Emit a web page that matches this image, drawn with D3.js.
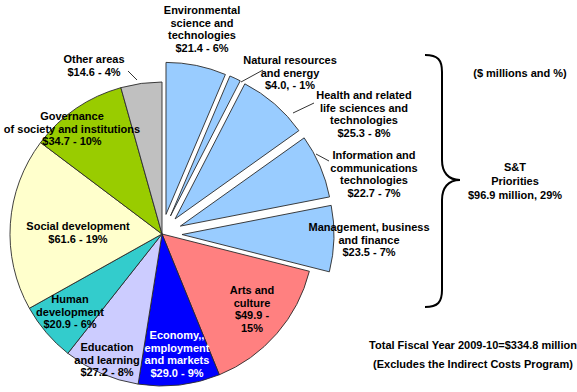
<!DOCTYPE html>
<html>
<head>
<meta charset="utf-8">
<script src="https://cdn.jsdelivr.net/npm/d3@7"></script>
<style>
  html, body { margin: 0; padding: 0; background: #fff; }
  svg { display: block; }
  text { font-family: "Liberation Sans", Arial, sans-serif; font-weight: bold; font-size: 11px; }
</style>
</head>
<body>
<svg id="chart" width="577" height="392"></svg>
<script>
// ---------------- DATA ----------------
const categories = [
  "Environmental science and technologies",
  "Natural resources and energy",
  "Health and related life sciences and technologies",
  "Information and communications technologies",
  "Management, business and finance",
  "Arts and culture",
  "Economy,, employment and markets",
  "Education and learning",
  "Human development",
  "Social development",
  "Governance of society and institutions",
  "Other areas"
];
const values   = [21.4, 4.0, 25.3, 22.7, 23.5, 49.9, 29.0, 27.2, 20.9, 61.6, 34.7, 14.6];
const percents = [6, 1, 8, 7, 7, 15, 9, 8, 6, 19, 10, 4];
const sAndT    = [true, true, true, true, true, false, false, false, false, false, false, false];
// label lines as they appear in the chart
const labelLines = [
  ["Environmental", "science and", "technologies", "$21.4 - 6%"],
  ["Natural resources", "and energy", "$4.0, - 1%"],
  ["Health and related", "life sciences and", "technologies", "$25.3 - 8%"],
  ["Information and", "communications", "technologies", "$22.7 - 7%"],
  ["Management, business", "and finance", "$23.5 - 7%"],
  ["Arts and", "culture", "$49.9 -", "15%"],
  ["Economy,,", "employment", "and markets", "$29.0 - 9%"],
  ["Education", "and learning", "$27.2 - 8%"],
  ["Human", "development", "$20.9 - 6%"],
  ["Social development", "$61.6 - 19%"],
  ["Governance", "of society and  institutions", "$34.7 - 10%"],
  ["Other areas", "$14.6 - 4%"]
];
const unitsNote = "($ millions and %)";
const braceLines = ["S&T", "Priorities", "$96.9 million, 29%"];
const footLines = ["Total Fiscal Year 2009-10=$334.8 million", "(Excludes the Indirect Costs Program)"];

// ---------------- STYLE / LAYOUT ----------------
const colors = ["#99CCFF", "#99CCFF", "#99CCFF", "#99CCFF", "#99CCFF",
                "#FF8080", "#0000FF", "#CCCCFF", "#33CCCC", "#FFFFCC", "#99CC00", "#C0C0C0"];
const textColors = ["#000", "#000", "#000", "#000", "#000", "#000", "#fff", "#000", "#000", "#000", "#000", "#000"];
const cx = 162, cy = 234, R = 152, explode = 20;
const lineH = 12.6;
// label anchor: [center x, first line center y]
const labelPos = [
  [202, 10], [290, 60], [364, 95], [374, 155], [369, 227], [252, 290],
  [177, 335], [107, 347], [70, 299], [78, 226], [72, 116], [94, 59]
];
// leader lines [x1,y1,x2,y2] (from label to slice)
const leaders = [
  null, [263, 70, 241, 82], [314, 103, 293, 113], [316, 154, 329, 161], null,
  null, null, null, null, null, null, [128, 71, 137, 80]
];

const svg = d3.select("#chart");
const g = svg.append("g").attr("transform", `translate(${cx},${cy})`);

const pie = d3.pie().sort(null).value(d => d.value).startAngle(0).endAngle(2 * Math.PI);
const arc = d3.arc().innerRadius(0).outerRadius(R);
const data = categories.map((c, i) => ({ name: c, value: values[i], pct: percents[i], st: sAndT[i], i }));
const arcs = pie(data);

g.selectAll("path.slice")
  .data(arcs)
  .join("path")
  .attr("class", "slice")
  .attr("d", arc)
  .attr("fill", d => colors[d.data.i])
  .attr("stroke", "#2a2a2a")
  .attr("stroke-width", 0.9)
  .attr("stroke-linejoin", "round")
  .attr("transform", d => {
    if (!d.data.st) return null;
    const a = (d.startAngle + d.endAngle) / 2;
    return `translate(${explode * Math.sin(a)},${-explode * Math.cos(a)})`;
  });

// leader lines
svg.selectAll("line.leader")
  .data(leaders.map((l, i) => ({ l, i })).filter(d => d.l))
  .join("line")
  .attr("class", "leader")
  .attr("x1", d => d.l[0]).attr("y1", d => d.l[1])
  .attr("x2", d => d.l[2]).attr("y2", d => d.l[3])
  .attr("stroke", "#333").attr("stroke-width", 1);

// slice labels
const lg = svg.selectAll("text.lbl")
  .data(arcs)
  .join("text")
  .attr("class", "lbl")
  .attr("text-anchor", "middle")
  .attr("fill", d => textColors[d.data.i]);
lg.each(function(d) {
  const [x, y] = labelPos[d.data.i];
  d3.select(this).selectAll("tspan")
    .data(labelLines[d.data.i])
    .join("tspan")
    .attr("x", x)
    .attr("y", (t, k) => y + k * lineH + 4)
    .text(t => t);
});

// brace
const brace = d3.path();
brace.moveTo(425, 55);
brace.bezierCurveTo(438, 55, 442, 60, 442, 72);
brace.lineTo(442, 160);
brace.bezierCurveTo(442, 172, 448, 180, 460, 180);
brace.bezierCurveTo(448, 180, 442, 188, 442, 200);
brace.lineTo(442, 290);
brace.bezierCurveTo(442, 302, 438, 307, 425, 307);
svg.append("path").attr("d", brace.toString())
  .attr("fill", "none").attr("stroke", "#000").attr("stroke-width", 2);

svg.append("text").attr("x", 520).attr("y", 77).attr("text-anchor", "middle").text(unitsNote);
svg.append("text").attr("text-anchor", "middle")
  .selectAll("tspan").data(braceLines).join("tspan")
  .attr("x", 515).attr("y", (t, k) => 171 + k * 14).text(t => t);
svg.append("text").attr("text-anchor", "middle")
  .selectAll("tspan").data(footLines).join("tspan")
  .attr("x", 473).attr("y", (t, k) => 349 + k * 18.5).text(t => t);
</script>
</body>
</html>
